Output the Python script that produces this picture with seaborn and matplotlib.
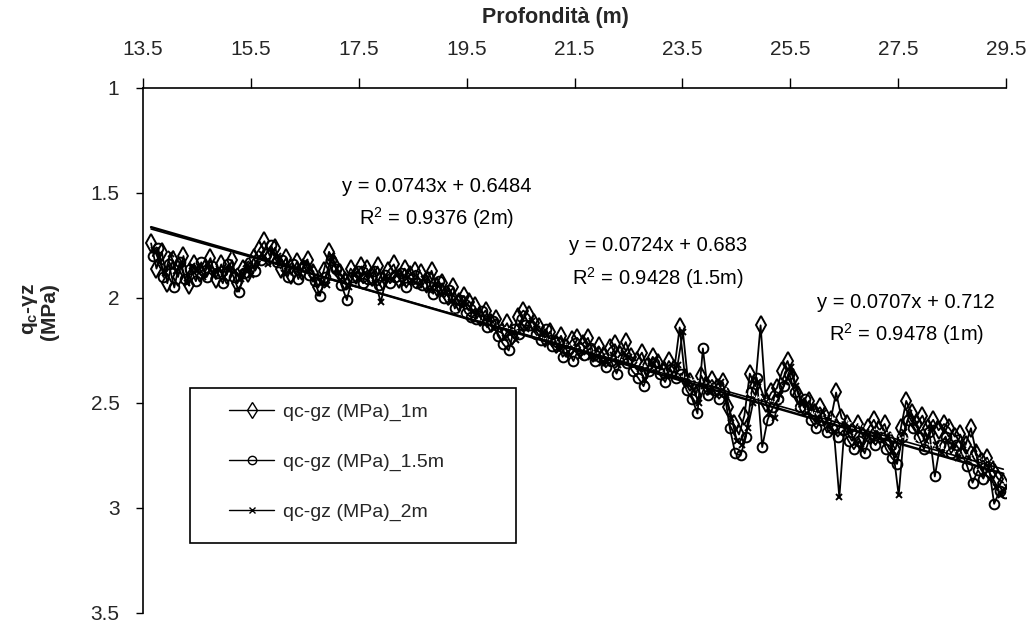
import numpy as np
import pandas as pd
import matplotlib
matplotlib.use("Agg")
import matplotlib.pyplot as plt
import seaborn as sns
from matplotlib.lines import Line2D
from matplotlib.patches import Rectangle

# ---- data ----
n_pts = 159
depth_1m = np.round(13.65 + 0.1 * np.arange(n_pts), 2)
depth_15m = np.round(13.68 + 0.1 * np.arange(n_pts), 2)
depth_2m = np.round(13.71 + 0.1 * np.arange(n_pts), 2)

qc_1m = [1.74, 1.86, 1.78, 1.93, 1.82, 1.90, 1.80, 1.94, 1.84, 1.88,
         1.86, 1.81, 1.91, 1.84, 1.89, 1.82, 1.93, 1.86, 1.88, 1.81,
         1.77, 1.73, 1.80, 1.76, 1.86, 1.81, 1.89, 1.83, 1.87, 1.82,
         1.88, 1.95, 1.87, 1.78, 1.84, 1.88, 1.92, 1.86, 1.89, 1.85,
         1.86, 1.90, 1.85, 1.92, 1.87, 1.84, 1.91, 1.86, 1.89, 1.87,
         1.88, 1.93, 1.87, 1.95, 1.93, 1.99, 1.95, 2.02, 1.99, 2.02,
         2.04, 2.09, 2.06, 2.12, 2.10, 2.16, 2.12, 2.18, 2.09, 2.06,
         2.08, 2.12, 2.14, 2.19, 2.16, 2.22, 2.18, 2.24, 2.20, 2.19,
         2.22, 2.19, 2.26, 2.23, 2.28, 2.24, 2.22, 2.27, 2.21, 2.28,
         2.30, 2.26, 2.33, 2.28, 2.31, 2.35, 2.30, 2.34, 2.14, 2.38,
         2.40, 2.46, 2.37, 2.42, 2.39, 2.43, 2.40, 2.52, 2.60, 2.65,
         2.56, 2.36, 2.42, 2.13, 2.50, 2.45, 2.43, 2.35, 2.30, 2.38,
         2.46, 2.52, 2.49, 2.55, 2.52, 2.56, 2.58, 2.45, 2.57, 2.60,
         2.64, 2.60, 2.66, 2.62, 2.58, 2.63, 2.60, 2.68, 2.72, 2.62,
         2.49, 2.55, 2.60, 2.56, 2.62, 2.58, 2.63, 2.60, 2.62, 2.66,
         2.65, 2.70, 2.62, 2.74, 2.78, 2.76, 2.82, 2.86, 2.88]

qc_15m = [1.80, 1.76, 1.90, 1.84, 1.95, 1.83, 1.91, 1.86, 1.92, 1.83,
          1.90, 1.85, 1.88, 1.93, 1.84, 1.90, 1.97, 1.88, 1.83, 1.87,
          1.82, 1.79, 1.75, 1.83, 1.82, 1.90, 1.84, 1.91, 1.85, 1.89,
          1.92, 1.99, 1.90, 1.82, 1.86, 1.94, 2.01, 1.90, 1.87, 1.93,
          1.91, 1.87, 1.94, 1.89, 1.93, 1.90, 1.88, 1.95, 1.91, 1.93,
          1.94, 1.90, 1.98, 1.92, 2.00, 1.96, 2.05, 2.01, 2.07, 2.09,
          2.10, 2.06, 2.14, 2.11, 2.18, 2.22, 2.25, 2.15, 2.17, 2.13,
          2.13, 2.17, 2.20, 2.15, 2.23, 2.21, 2.28, 2.25, 2.30, 2.24,
          2.27, 2.24, 2.30, 2.28, 2.33, 2.30, 2.36, 2.29, 2.31, 2.35,
          2.38, 2.42, 2.35, 2.31, 2.36, 2.40, 2.34, 2.38, 2.36, 2.44,
          2.48, 2.55, 2.24, 2.46, 2.44, 2.48, 2.45, 2.62, 2.74, 2.75,
          2.66, 2.45, 2.38, 2.71, 2.58, 2.52, 2.48, 2.42, 2.36, 2.45,
          2.52, 2.48, 2.58, 2.62, 2.58, 2.64, 2.62, 2.66, 2.63, 2.68,
          2.72, 2.68, 2.74, 2.66, 2.70, 2.66, 2.72, 2.76, 2.79, 2.66,
          2.58, 2.62, 2.66, 2.72, 2.64, 2.85, 2.70, 2.66, 2.74, 2.70,
          2.74, 2.80, 2.88, 2.82, 2.86, 2.80, 2.98, 2.92, 2.93]

qc_2m = [1.77, 1.83, 1.88, 1.79, 1.87, 1.84, 1.93, 1.85, 1.87, 1.90,
         1.84, 1.89, 1.86, 1.90, 1.86, 1.87, 1.91, 1.84, 1.89, 1.85,
         1.79, 1.84, 1.78, 1.80, 1.88, 1.85, 1.86, 1.88, 1.83, 1.86,
         1.90, 1.93, 1.94, 1.80, 1.88, 1.90, 1.95, 1.89, 1.91, 1.88,
         1.89, 1.93, 2.02, 1.90, 1.91, 1.88, 1.93, 1.90, 1.92, 1.94,
         1.91, 1.96, 1.94, 1.98, 1.97, 2.02, 2.00, 2.04, 2.03, 2.06,
         2.07, 2.12, 2.10, 2.15, 2.14, 2.19, 2.17, 2.20, 2.12, 2.15,
         2.11, 2.15, 2.17, 2.21, 2.19, 2.25, 2.23, 2.27, 2.25, 2.28,
         2.24, 2.28, 2.25, 2.31, 2.30, 2.27, 2.32, 2.26, 2.28, 2.32,
         2.34, 2.39, 2.30, 2.34, 2.33, 2.37, 2.36, 2.32, 2.16, 2.41,
         2.44, 2.50, 2.42, 2.45, 2.42, 2.40, 2.46, 2.57, 2.68, 2.70,
         2.62, 2.50, 2.40, 2.47, 2.55, 2.57, 2.46, 2.40, 2.33, 2.42,
         2.49, 2.55, 2.52, 2.58, 2.55, 2.60, 2.64, 2.95, 2.60, 2.64,
         2.68, 2.72, 2.64, 2.68, 2.64, 2.68, 2.66, 2.73, 2.94, 2.64,
         2.55, 2.60, 2.64, 2.68, 2.62, 2.70, 2.74, 2.68, 2.70, 2.76,
         2.70, 2.76, 2.72, 2.80, 2.84, 2.86, 2.90, 2.94, 2.90]

series_labels = ["qc-gz (MPa)_1m", "qc-gz (MPa)_1.5m", "qc-gz (MPa)_2m"]
trend_slope = [0.0707, 0.0724, 0.0743]
trend_intercept = [0.712, 0.683, 0.6484]
trend_texts = ["y = 0.0707x + 0.712\nR$^2$ = 0.9478 (1m)",
               "y = 0.0724x + 0.683\nR$^2$ = 0.9428 (1.5m)",
               "y = 0.0743x + 0.6484\nR$^2$ = 0.9376 (2m)"]
x_ticks = [13.5, 15.5, 17.5, 19.5, 21.5, 23.5, 25.5, 27.5, 29.5]
y_ticks = [1, 1.5, 2, 2.5, 3, 3.5]

# ---- style ----
sns.set_theme(style="white")
plt.rcParams["font.family"] = ["Liberation Sans", "DejaVu Sans"]
plt.rcParams["mathtext.fontset"] = "custom"
plt.rcParams["mathtext.rm"] = "Liberation Sans"
plt.rcParams["mathtext.it"] = "Liberation Sans"
plt.rcParams["mathtext.bf"] = "Liberation Sans:bold"

fig = plt.figure(figsize=(10.36, 6.24), dpi=100)
ax = fig.add_axes([143/1036, 1-613/624, (1006-143)/1036, (613-88)/624])

df = pd.DataFrame({"depth": np.concatenate([depth_1m, depth_15m, depth_2m]),
                   "qc": np.concatenate([qc_1m, qc_15m, qc_2m]),
                   "serie": np.repeat(series_labels, n_pts)})

marker_styles = {series_labels[0]: dict(marker="d", ms=9, mew=1.4),
                 series_labels[1]: dict(marker="o", ms=7, mew=1.4),
                 series_labels[2]: dict(marker="x", ms=4, mew=1.4)}

for lab in series_labels:
    sub = df[df["serie"] == lab]
    sns.lineplot(data=sub, x="depth", y="qc", ax=ax, color="black",
                 lw=1.3, estimator=None, sort=False,
                 markerfacecolor="none", markeredgecolor="black",
                 legend=False, **marker_styles[lab])

# trend lines
trend_styles = [dict(color="white", lw=1.0, ls=(0, (1, 2))),
                dict(color="black", lw=1.2, ls="-"),
                dict(color="black", lw=1.8, ls="-")]
x0, x1 = 13.65, 29.45
for m, q, st in zip(trend_slope, trend_intercept, trend_styles):
    ax.plot([x0, x1], [m*x0 + q, m*x1 + q], zorder=5, **st)

# annotations
ann_pos = [(27.65, 2.105), (23.05, 1.836), (18.95, 1.552)]
for (tx, ty), t in zip(ann_pos, trend_texts):
    ax.text(tx, ty, t, ha="center", va="center", fontsize=14.5,
            color="black", linespacing=1.5)

# axes
ax.set_xlim(13.5, 29.5)
ax.set_ylim(3.5, 1)
ax.xaxis.tick_top()
ax.set_xticks(x_ticks)
ax.set_xticklabels([f"{v:.1f}" for v in x_ticks])
ax.set_yticks(y_ticks)
ax.set_yticklabels([f"{v:g}" for v in y_ticks])
ax.tick_params(axis="x", which="major", direction="out", length=7, width=1,
               color="black", labelsize=15, pad=14, top=True, bottom=False)
ax.tick_params(axis="y", which="major", direction="out", length=5, width=1,
               color="black", labelsize=15, pad=12, left=True)
ax.set_xlabel("")
ax.set_ylabel("")
for side in ["right", "bottom"]:
    ax.spines[side].set_visible(False)
for side in ["left", "top"]:
    ax.spines[side].set_color("black")
    ax.spines[side].set_linewidth(1.2)
ax.set_facecolor("white")
fig.patch.set_facecolor("white")

fig.text(555/1036, 1-18/624, "Profondità (m)", ha="center", va="center",
         fontsize=15.5, fontweight="bold")
fig.text(40/1036, 1-312/624, "q$_\\mathbf{c}$-\u03b3z\n(MPa)", ha="center",
         va="center", rotation=90, fontsize=15, fontweight="bold",
         multialignment="right", linespacing=1.0)

# legend: framed box drawn separately, entries placed inside it
box = Rectangle((0.0545, 0.1333), 0.3775, 0.2953, transform=ax.transAxes,
                facecolor="white", edgecolor="black", lw=1.2, zorder=6)
ax.add_patch(box)
legend_styles = {series_labels[0]: dict(marker="d", ms=8, mew=1.0),
                 series_labels[1]: dict(marker="o", ms=6, mew=1.0),
                 series_labels[2]: dict(marker="x", ms=4, mew=1.0)}
handles = [Line2D([], [], color="black", lw=1.0, markerfacecolor="none",
                  markeredgecolor="black", **legend_styles[l]) for l in series_labels]
leg = ax.legend(handles, series_labels, loc="upper left",
                bbox_to_anchor=(0.100, 0.400), frameon=False,
                fontsize=14, handlelength=2.3, handletextpad=0.45,
                labelspacing=1.65, borderpad=0.0, borderaxespad=0.0)
leg.set_zorder(7)

fig.savefig("out.png", dpi=100, facecolor="white")
